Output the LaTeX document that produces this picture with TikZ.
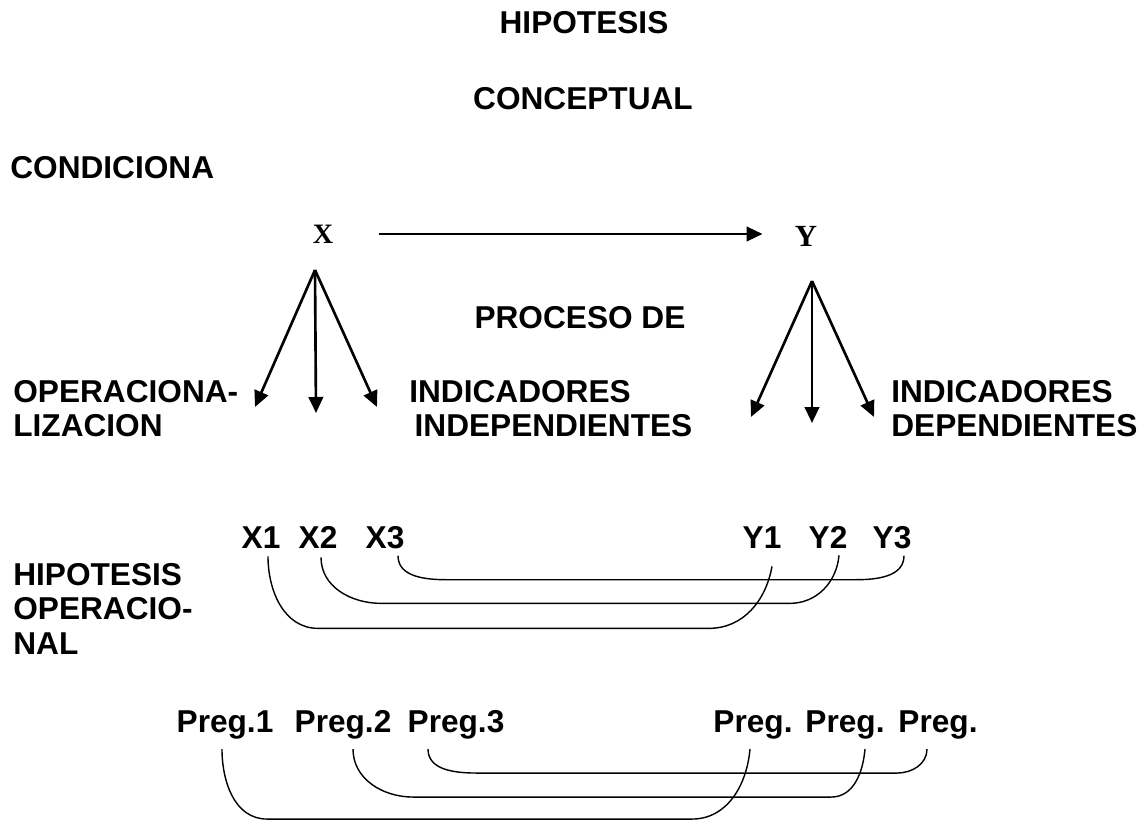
\documentclass[tikz,border=0pt]{standalone}
\usepackage{fontspec}
\setmainfont{Liberation Sans}
\newfontfamily\varfont{Liberation Serif}
\usetikzlibrary{arrows.meta}

\begin{document}
\begin{tikzpicture}[
  x=0.02cm, y=-0.02cm,
  lbl/.style={font=\bfseries\fontsize{18}{19.6}\selectfont, inner sep=0pt, align=left},
  var/.style={font=\varfont\bfseries\fontsize{16}{18}\selectfont, inner sep=0pt},
  arr/.style={line width=1.5pt, -{Triangle[length=0.32cm, width=0.29cm]}},
  link/.style={line width=0.8pt}
]
\useasboundingbox (0,0) rectangle (1147,821);

% Titles
\node[lbl] (hip) at (584,23) {HIPOTESIS};
\node[lbl] (conc) at (583,99) {CONCEPTUAL};
\node[lbl, anchor=west] (cond) at (10,168) {CONDICIONA};

% Variables X and Y
\node[var] (x) at (323,234) {X};
\node[var, font=\varfont\bfseries\fontsize{17.5}{18}\selectfont] (y) at (806,236) {Y};
\draw[arr] ([shift={(45,0)}]x.east) -- ([shift={(-32,-2)}]y.west);

% Fan under X
\coordinate (xtop) at (315,270);
\draw[arr] (xtop) -- ++(-60,137);
\draw[arr] (xtop) -- ++(1,143);
\draw[arr] (xtop) -- ++(62,137);

% Fan under Y
\coordinate (ytop) at (812,281);
\draw[arr] (ytop) -- ++(-61,136);
\draw[arr] (ytop) -- ++(0,142);
\draw[arr] (ytop) -- ++(62,136);

% Labels of the middle band
\node[lbl] (proc) at (580,318) {PROCESO DE};
\node[lbl, anchor=north west] (oper) at (13,380) {OPERACIONA-\\LIZACION};
\node[lbl, anchor=north west] (indi) at (409,380) {INDICADORES\\\hspace*{3pt}INDEPENDIENTES};
\node[lbl, anchor=north west] (indd) at (891,380) {INDICADORES\\DEPENDIENTES};

% Indicators
\node[lbl, anchor=base] (x1) at (261,548) {X1};
\node[lbl, anchor=base] (x2) at (318,548) {X2};
\node[lbl, anchor=base] (x3) at (385,548) {X3};
\node[lbl, anchor=base] (y1) at (762,548) {Y1};
\node[lbl, anchor=base] (y2) at (828,548) {Y2};
\node[lbl, anchor=base] (y3) at (892,548) {Y3};

\node[lbl, anchor=north west] (hipop) at (13,563) {HIPOTESIS\\OPERACIO-\\NAL};

% Links between indicators
\draw[link] ([shift={(7,8)}]x1.south) to[out=-90,in=180] ++(50,72) -- ++(391,0) to[out=0,in=-100] ([shift={(10,18)}]y1.south);
\draw[link] ([shift={(3,9)}]x2.south) to[out=-90,in=180] ++(60,46) -- ++(409,0) to[out=0,in=-95] ([shift={(11,7)}]y2.south);
\draw[link] ([shift={(13,7)}]x3.south) to[out=-90,in=180] ++(49,24) -- ++(409,0) to[out=0,in=-90] ([shift={(12,7)}]y3.south);

% Questions
\node[lbl, anchor=base] (p1) at (225,732) {Preg.1};
\node[lbl, anchor=base] (p2) at (343,732) {Preg.2};
\node[lbl, anchor=base] (p3) at (456,732) {Preg.3};
\node[lbl, anchor=base] (q1) at (753,732) {Preg.};
\node[lbl, anchor=base] (q2) at (845,732) {Preg.};
\node[lbl, anchor=base] (q3) at (938,732) {Preg.};

% Links between questions
\draw[link] ([shift={(-3,10)}]p1.south) to[out=-90,in=180] ++(45,70) -- ++(425,0) to[out=0,in=-95] ([shift={(-3,10)}]q1.south);
\draw[link] ([shift={(10,10)}]p2.south) to[out=-90,in=180] ++(60,48) -- ++(418,0) to[out=0,in=-95] ([shift={(20,10)}]q2.south);
\draw[link] ([shift={(-28,10)}]p3.south) to[out=-90,in=180] ++(49,24) -- ++(420,0) to[out=0,in=-90] ([shift={(-11,10)}]q3.south);

\end{tikzpicture}
\end{document}
